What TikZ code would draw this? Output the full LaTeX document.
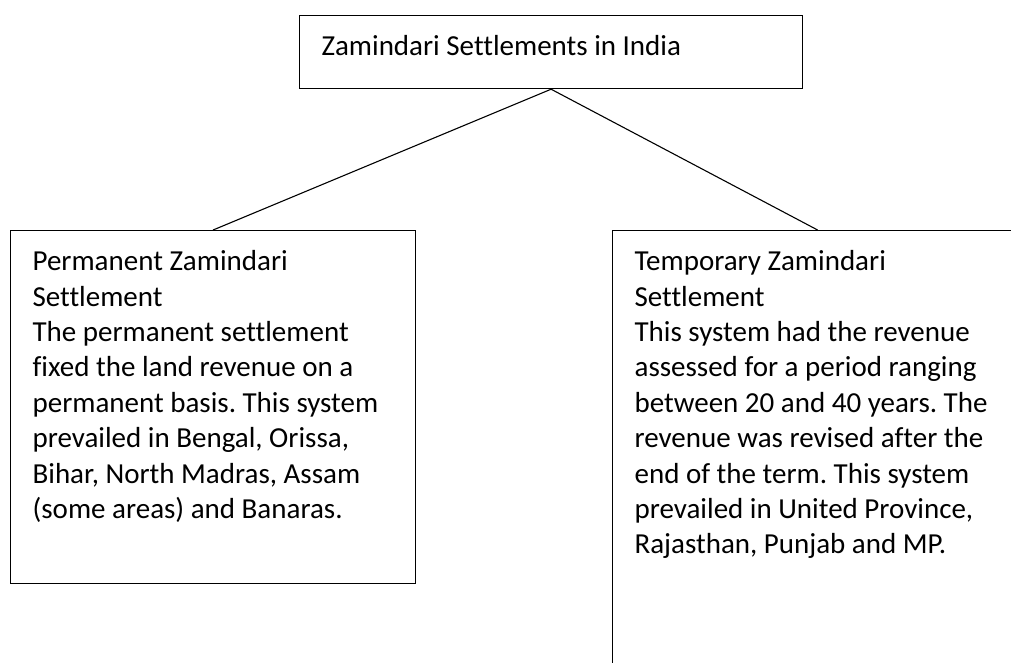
\documentclass[tikz,border=0pt]{standalone}
\usepackage{fontspec}
\setmainfont{Carlito}[Ligatures=NoCommon]
\usepackage{tikz}
\frenchspacing
\tikzstyle{box}=[draw, line width=1.2pt, anchor=north west, inner xsep=22pt, inner ysep=15pt, font=\fontsize{29}{35.4}\selectfont]
\providecommand{\boxnode}{\node[box]}
\providecommand{\boxtext}[3]{\parbox[t][#2][t]{#1}{\raggedright\rule{0pt}{25pt}#3}}

\begin{document}
\begin{tikzpicture}[x=1pt, y=-1pt,
    every edge/.style={draw, line width=1.1pt}
]
\useasboundingbox (0,0) rectangle (1011,662);
\boxnode (india) at (299,15) {\boxtext{459pt}{43pt}{Zamindari Settlements in India}};
\boxnode (perm) at (10,230) {\boxtext{361pt}{323pt}{Permanent Zamindari\\
Settlement\\
The permanent settlement\\
fixed the land revenue on a\\
permanent basis. This system\\
prevailed in Bengal, Orissa,\\
Bihar, North Madras, Assam\\
(some areas) and Banaras.}};
\boxnode (temp) at (612,230) {\boxtext{366pt}{500pt}{Temporary Zamindari\\
Settlement\\
This system had the revenue\\
assessed for a period ranging\\
between 20 and 40 years. The\\
revenue was revised after the\\
end of the term. This system\\
prevailed in United Province,\\
Rajasthan, Punjab and MP.}};
\path
(india.south) edge (perm.north)
(india.south) edge (temp.north)
;
\end{tikzpicture}
\end{document}
